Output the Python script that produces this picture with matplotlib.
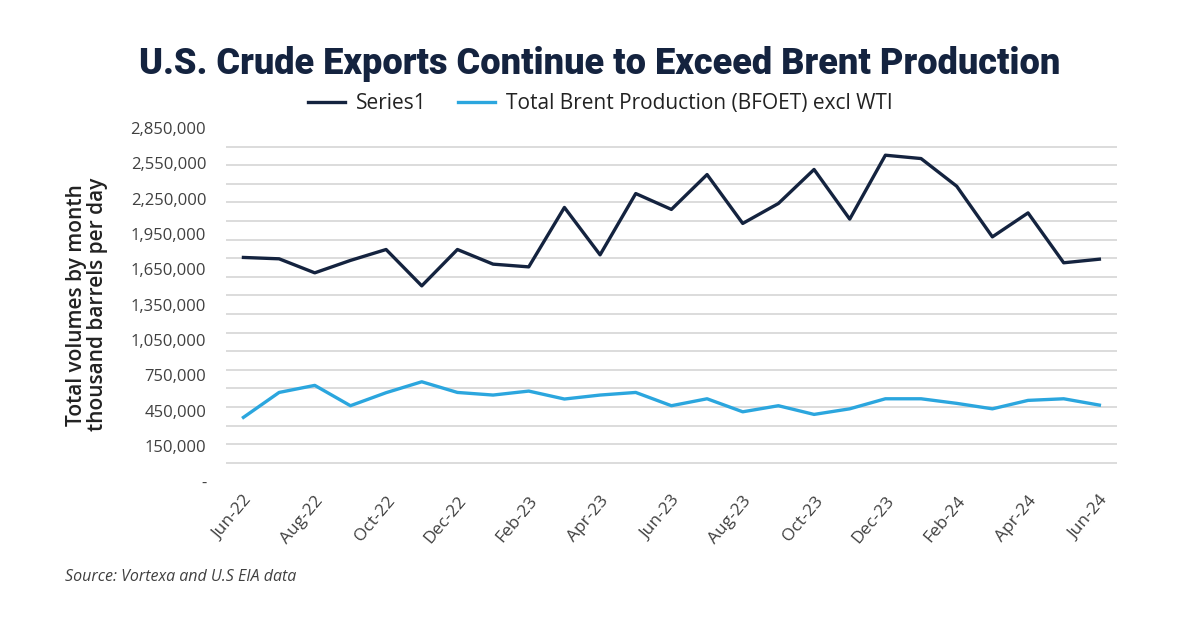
import numpy as np
import matplotlib.pyplot as plt
from matplotlib.ticker import FixedLocator, MultipleLocator

# 데이터 (월별, Jun-22 ~ Jun-24)
months = ['Jun-22', 'Jul-22', 'Aug-22', 'Sep-22', 'Oct-22', 'Nov-22', 'Dec-22',
          'Jan-23', 'Feb-23', 'Mar-23', 'Apr-23', 'May-23', 'Jun-23', 'Jul-23',
          'Aug-23', 'Sep-23', 'Oct-23', 'Nov-23', 'Dec-23', 'Jan-24', 'Feb-24',
          'Mar-24', 'Apr-24', 'May-24', 'Jun-24']
us_exports = [1806000, 1795000, 1682000, 1782000, 1870000, 1577000, 1870000,
              1752000, 1730000, 2209000, 1827000, 2321000, 2193000, 2474000,
              2080000, 2241000, 2515000, 2115000, 2630000, 2603000, 2380000,
              1972000, 2165000, 1763000, 1792000]
brent_prod = [517000, 718000, 775000, 611000, 716000, 804000, 718000,
              697000, 729000, 665000, 697000, 718000, 611000, 667000,
              562000, 611000, 541000, 586000, 667000, 667000, 630000,
              586000, 654000, 667000, 616000]
ytick_labels = ['-', '150,000', '450,000', '750,000', '1,050,000', '1,350,000',
                '1,650,000', '1,950,000', '2,250,000', '2,550,000', '2,850,000']
ymax = 2850000

navy = '#14233F'
sky = '#2BA6DE'
grey_txt = '#404040'

fig = plt.figure(figsize=(12, 6.27), dpi=100)
ax = fig.add_axes([0.188, 0.232, 0.743, 0.564])

x = np.arange(len(months))
ax.plot(x, us_exports, color=navy, lw=2.4, label='Series1')
ax.plot(x, brent_prod, color=sky, lw=2.4, label='Total Brent Production (BFOET) excl WTI')

ax.set_xlim(-0.5, len(months) - 0.5)
ax.set_ylim(0, ymax)

# 격자선: 150,000 간격, 라벨은 균등 배치
ax.yaxis.set_minor_locator(MultipleLocator(150000))
ax.yaxis.set_major_locator(FixedLocator(np.linspace(0, ymax, len(ytick_labels))))
ax.set_yticklabels(ytick_labels, family='Open Sans', fontsize=12, color=grey_txt)
ax.grid(False)
ax.grid(axis='y', which='minor', color='#D9D9D9', lw=1.3)
ax.set_axisbelow(True)
ax.tick_params(axis='y', which='both', length=0, pad=14)

ax.set_xticks(x[::2])
ax.set_xticklabels(months[::2], rotation=50, ha='right', rotation_mode='anchor',
                   family='Open Sans', fontsize=12.5, color=grey_txt)
ax.tick_params(axis='x', length=0, pad=8)

for s in ax.spines.values():
    s.set_visible(False)

ax.set_ylabel('Total volumes by month\nthousand barrels per day', family='Open Sans',
              fontsize=15, fontweight=600, color='#222222', labelpad=16, linespacing=1.05)

fig.text(0.5, 0.898, 'U.S. Crude Exports Continue to Exceed Brent Production',
         ha='center', va='center', fontsize=26, fontweight='heavy', color=navy,
         family=['Liberation Sans Narrow', 'Roboto'])

ax.legend(loc='center', bbox_to_anchor=(0.5, 0.835), bbox_transform=fig.transFigure,
          ncol=2, frameon=False, prop={'family': 'Open Sans', 'size': 15},
          handlelength=1.8, columnspacing=1.5, handletextpad=0.5)
for t in ax.get_legend().get_texts():
    t.set_color('#222222')

fig.text(0.054, 0.073, 'Source: Vortexa and U.S EIA data', fontsize=11.5,
         style='italic', color=grey_txt, family='Open Sans')

plt.savefig('out.png', dpi=100)
